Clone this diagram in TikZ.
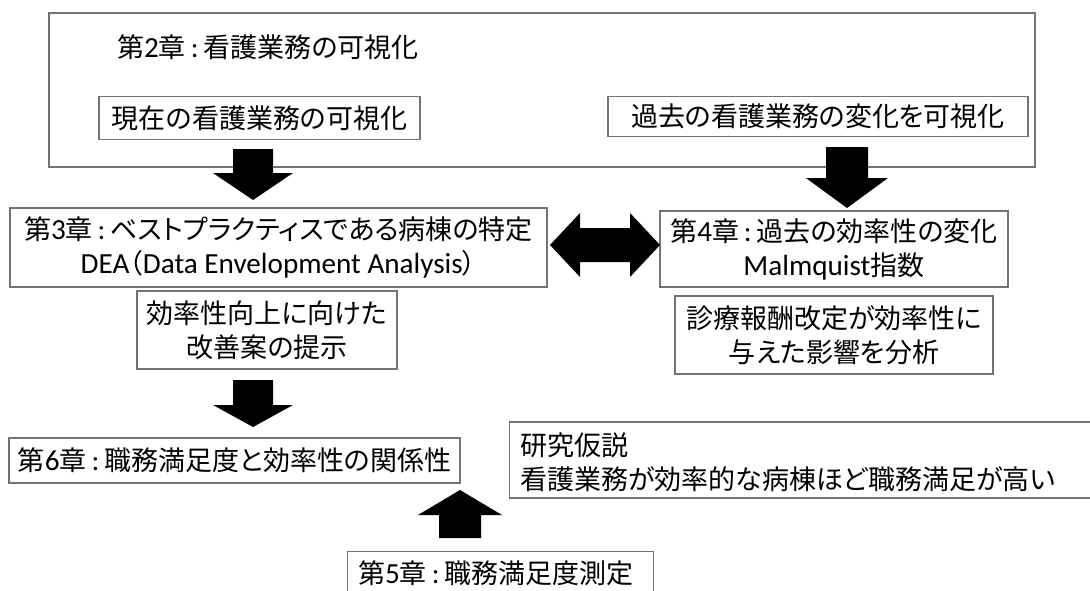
\documentclass[tikz,border=0pt]{standalone}
\usepackage{fontspec}
\setmainfont{Noto Sans CJK JP}[RawFeature=+palt]
\newfontfamily\lat{Carlito}[Scale=1.08]
\newcommand{\cln}{{\lat\,:\,}}
\newcommand{\vblock}[6]{% cx, y end, y base, y tip, shaft half, head half
  \fill[black] ({#1-#5},#2) -- ({#1+#5},#2) -- ({#1+#5},#3) -- ({#1+#6},#3) -- (#1,#4) -- ({#1-#6},#3) -- ({#1-#5},#3) -- cycle;}
\begin{document}
\begin{tikzpicture}[x=1pt,y=-1pt,
  box/.style={draw=black!55, line width=1.1pt, fill=white, inner sep=0pt, align=center,
    text=black, font=\fontsize{27}{34}\selectfont},
  txt/.style={inner sep=0pt, text=black, font=\fontsize{27}{34}\selectfont, align=left}]
\useasboundingbox (0,0) rectangle (1090,590);
\clip (0,0) rectangle (1090,590);
% chapter 2 frame
\node[box, minimum width=986, minimum height=154] (ch2) at (542,90) {};
\node[txt, anchor=west] (ch2t) at (117,47) {第{\lat 2}章\cln 看護業務の可視化};
\node[box, minimum width=321, minimum height=43] (cur) at (259.5,118) {現在の看護業務の可視化};
\node[box, minimum width=420, minimum height=40] (past) at (818,116.5) {過去の看護業務の変化を可視化};
% chapter 3, 4
\node[box, minimum width=537, minimum height=79] (ch3) at (278.5,247.5)
  {第{\lat 3}章\cln ベストプラクティスである病棟の特定\\{\lat DEA}（{\lat Data Envelopment Analysis}）};
\node[box, minimum width=348, minimum height=76] (ch4) at (834,249)
  {第{\lat 4}章\cln 過去の効率性の変化\\{\lat Malmquist}指数};
\node[box, minimum width=260, minimum height=78] (imp) at (267,330)
  {効率性向上に向けた\\改善案の提示};
\node[box, minimum width=318, minimum height=78] (ana) at (834,335)
  {診療報酬改定が効率性に\\与えた影響を分析};
% chapter 6, hypothesis, chapter 5
\node[box, minimum width=451, minimum height=45] (ch6) at (234.5,460.5)
  {第{\lat 6}章\cln 職務満足度と効率性の関係性};
\node[box, minimum width=620, minimum height=76, anchor=west] (hyp) at (509,460) {};
\node[txt, anchor=west] (hypt) at (520,462)
  {研究仮説\\看護業務が効率的な病棟ほど職務満足が高い};
\node[box, minimum width=306, minimum height=70, anchor=north west] (ch5) at (347,551) {};
\node[txt, anchor=west] (ch5t) at (358,573) {第{\lat 5}章\cln 職務満足度測定};
% block arrows
\vblock{253}{149}{173}{200}{20}{40}
\vblock{847}{147}{178}{208}{21}{41}
\vblock{253}{380}{405}{427}{20}{40}
\vblock{460}{538}{515}{490}{21}{42}
\fill[black] (550,245) -- (580,213) -- (580,228) -- (630,228) -- (630,213) -- (660,245)
  -- (630,277) -- (630,262) -- (580,262) -- (580,277) -- cycle;
\end{tikzpicture}
\end{document}
